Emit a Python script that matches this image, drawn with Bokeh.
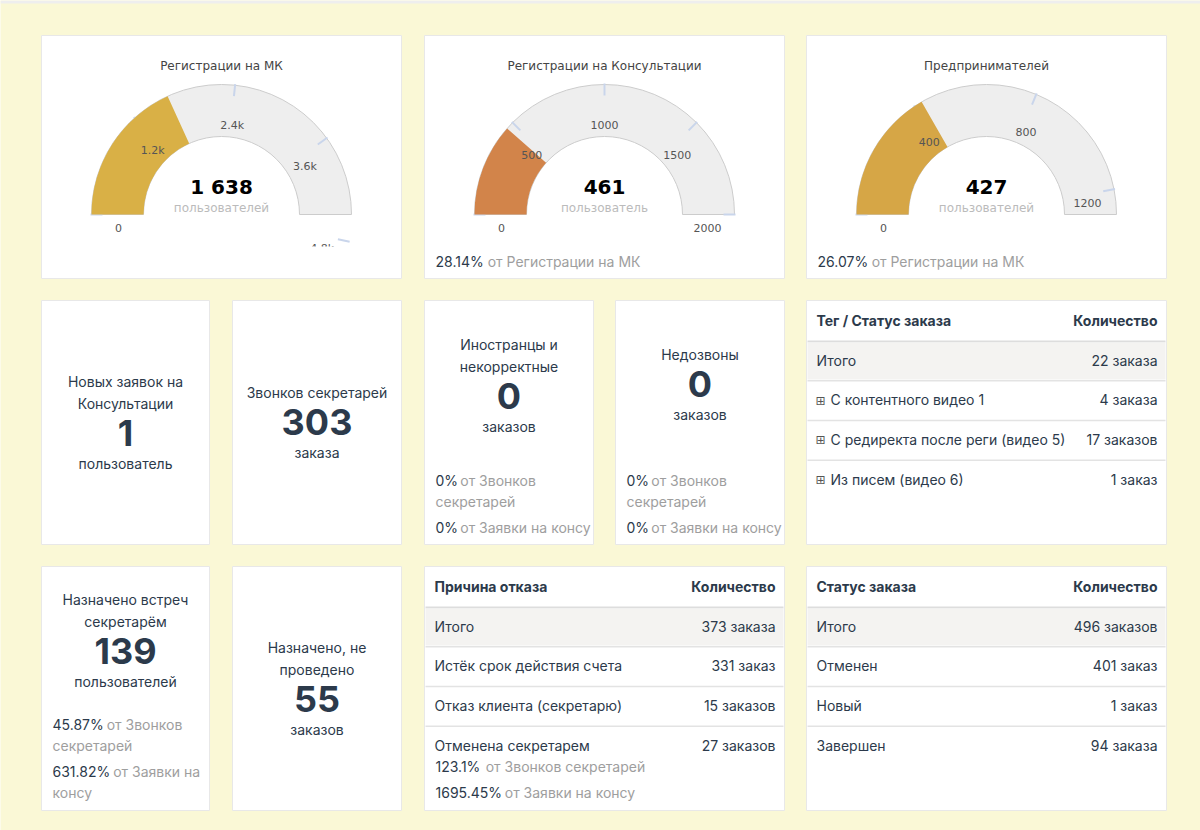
import math
from bokeh.plotting import figure
from bokeh.models import Range1d
from bokeh.core.properties import value
from bokeh.embed import file_html
from bokeh.resources import INLINE

# ---------------- data ----------------
gauge_titles = ["Регистрации на МК", "Регистрации на Консультации", "Предпринимателей"]
gauge_values = [1638, 461, 427]
gauge_max = [4500, 2000, 1280]
gauge_ticks = [[0, 1200, 2400, 3600, 4800], [0, 500, 1000, 1500, 2000], [0, 400, 800, 1200]]
gauge_tick_labels = [["0", "1.2k", "2.4k", "3.6k", "4.8k"],
                     ["0", "500", "1000", "1500", "2000"],
                     ["0", "400", "800", "1200"]]
gauge_units = ["пользователей", "пользователь", "пользователей"]
gauge_colors = ["#D9B046", "#D2844A", "#D6A646"]

kpi_titles = [["Новых заявок на", "Консультации"], ["Звонков секретарей"],
              ["Иностранцы и", "некорректные"], ["Недозвоны"],
              ["Назначено встреч", "секретарём"], ["Назначено, не", "проведено"]]
kpi_values = [1, 303, 0, 0, 139, 55]
kpi_units = ["пользователь", "заказа", "заказов", "заказов", "пользователей", "заказов"]

tag_names = ["Итого", "С контентного видео 1", "С редиректа после реги (видео 5)", "Из писем (видео 6)"]
tag_counts = [22, 4, 17, 1]
reason_names = ["Итого", "Истёк срок действия счета", "Отказ клиента (секретарю)", "Отменена секретарем"]
reason_counts = [373, 331, 15, 27]
status_names = ["Итого", "Отменен", "Новый", "Завершен"]
status_counts = [496, 401, 1, 94]

calls_total = kpi_values[1]          # Звонков секретарей
consult_total = tag_counts[0]        # Заявки на консу

# ---------------- style ----------------
W, H = 1200, 830
BG = "#FAF8D6"
CARD_LINE = "#E8E8E8"
DARK = "#2C3A4B"
GREY = "#9E9E9E"
UI = "Inter"
HC = "DejaVu Sans"
UI_SHIFT = -1.0   # Inter sits slightly low with a "middle" baseline


def Y(v):
    return H - v


def pct(a, b):
    s = f"{100.0 * a / b:.2f}".rstrip("0").rstrip(".")
    return s + "%"


def plural(n, forms=("заказ", "заказа", "заказов")):
    n10, n100 = n % 10, n % 100
    if n10 == 1 and n100 != 11:
        return forms[0]
    if 2 <= n10 <= 4 and not 12 <= n100 <= 14:
        return forms[1]
    return forms[2]


# rough advance widths (em) for the numeric prefixes
CW = {".": 0.27, "%": 0.80, " ": 0.27, "1": 0.47}


def text_w(s, size):
    return sum(CW.get(c, 0.61) for c in s) * size


p = figure(width=W, height=H, x_range=Range1d(0, W), y_range=Range1d(0, H),
           output_backend="svg", toolbar_location=None,
           x_axis_location=None, y_axis_location=None, min_border=0)
p.grid.visible = False
p.outline_line_color = None
p.background_fill_color = BG
p.border_fill_color = BG


def label(x, y, s, size=14, color=DARK, font=UI, style="normal", align="center"):
    if font == UI:
        y += UI_SHIFT
    p.text(x=[x], y=[Y(y)], text=[s], text_font=value(font), text_font_size=f"{size}px",
           text_color=color, text_font_style=style, text_align=align, text_baseline="middle")


def card(x0, x1, y0, y1):
    p.quad(left=[x0], right=[x1], top=[Y(y0)], bottom=[Y(y1)],
           fill_color="white", line_color=CARD_LINE, line_width=1)


def share_line(x, y, num, rest_lines, size=14, lh=21):
    label(x, y, num, size=size, color=DARK, align="left")
    gx = x + text_w(num, size) + 5
    for k, t in enumerate(rest_lines):
        label(gx if k == 0 else x, y + k * lh, t, size=size, color=GREY, align="left")


# top strip
p.quad(left=[0], right=[W], top=[H], bottom=[Y(3)], fill_color="#EEEEEE", line_color=None)

# ---------------- gauges ----------------
cols = [(41, 401), (424, 784), (806, 1166)]
R_IN, R_OUT, CY = 78, 130, 214
for i in range(3):
    x0, x1 = cols[i]
    card(x0, x1, 35, 278)
    cx = (x0 + x1) / 2
    label(cx, 65, gauge_titles[i], size=12, color="#444444", font=HC)
    p.annular_wedge(x=[cx], y=[Y(CY)], inner_radius=R_IN, outer_radius=R_OUT,
                    start_angle=0, end_angle=math.pi, fill_color="#EEEEEE",
                    line_color="#CCCCCC", line_width=1)
    angs = [math.pi * (1 - t / gauge_max[i]) for t in gauge_ticks[i]]
    p.segment(x0=[cx + 119 * math.cos(a) for a in angs], y0=[Y(CY) + 119 * math.sin(a) for a in angs],
              x1=[cx + 131 * math.cos(a) for a in angs], y1=[Y(CY) + 131 * math.sin(a) for a in angs],
              line_color="#C9D5EB", line_width=2)
    va = math.pi * (1 - gauge_values[i] / gauge_max[i])
    p.annular_wedge(x=[cx], y=[Y(CY)], inner_radius=R_IN, outer_radius=R_OUT,
                    start_angle=va, end_angle=math.pi, fill_color=gauge_colors[i], line_color=None)
    for a, t in zip(angs, gauge_tick_labels[i]):
        lx = cx + 103 * math.cos(a)
        ly = CY - 103 * math.sin(a) + 13
        if 0 < a < 0.3:
            ly -= 4
        label(lx, ly, t, size=11, color="#555555", font=HC)
    label(cx, 186, f"{gauge_values[i]:,}".replace(",", " "), size=20, color="#000000", font=HC, style="bold")
    label(cx, 207, gauge_units[i], size=12, color="#BBBBBB", font=HC)
    if i == 0:
        # plot area ends above the card bottom, hiding the overflowing last label
        p.quad(left=[x0 + 1], right=[x1 - 1], top=[Y(246)], bottom=[Y(277)],
               fill_color="white", line_color=None)
    else:
        share_line(x0 + 11, 262, pct(gauge_values[i], gauge_values[0]), ["от " + gauge_titles[0]])

# ---------------- KPI cards ----------------
kpi_boxes = [(41, 209, 300, 544), (232, 401, 300, 544), (424, 593, 300, 544),
             (615, 784, 300, 544), (41, 209, 566, 810), (232, 401, 566, 810)]
kpi_title_y = [382, 393, 345, 355, 600, 648]
for k in range(6):
    x0, x1, y0, y1 = kpi_boxes[k]
    card(x0, x1, y0, y1)
    cx = (x0 + x1) / 2
    ty = kpi_title_y[k]
    for j, t in enumerate(kpi_titles[k]):
        label(cx, ty + 21.5 * j, t, size=14)
    ny = ty + 21.5 * (len(kpi_titles[k]) - 1) + 29.5
    label(cx, ny, str(kpi_values[k]), size=36, style="bold")
    label(cx, ny + 30.5, kpi_units[k], size=14)

for k in (2, 3):
    x0 = kpi_boxes[k][0] + 11
    share_line(x0, 480.5, pct(kpi_values[k], calls_total), ["от Звонков", "секретарей"])
    share_line(x0, 527.5, pct(kpi_values[k], consult_total), ["от Заявки на консу"])
share_line(52, 724.5, pct(kpi_values[4], calls_total), ["от Звонков", "секретарей"])
share_line(52, 771.5, pct(kpi_values[4], consult_total), ["от Заявки на", "консу"])


# ---------------- tables ----------------
def table(x0, x1, y0, y1, head, names, counts, icons=False):
    card(x0, x1, y0, y1)
    label(x0 + 10, y0 + 20.5, head, size=14, style="bold", align="left")
    label(x1 - 9, y0 + 20.5, "Количество", size=14, style="bold", align="right")
    p.quad(left=[x0 + 1], right=[x1 - 1], top=[Y(y0 + 40)], bottom=[Y(y0 + 42)],
           fill_color="#DDDDDD", line_color=None)
    p.quad(left=[x0 + 1], right=[x1 - 1], top=[Y(y0 + 42)], bottom=[Y(y0 + 79)],
           fill_color="#F4F3F1", line_color=None)
    for r, (n, c) in enumerate(zip(names, counts)):
        ry = y0 + 60.5 + 39.7 * r
        tx = x0 + 10
        if icons and r > 0:
            label(x0 + 14, ry, "⊞", size=12, color="#555555", font=HC)
            tx = x0 + 24
        label(tx, ry, n, size=14, align="left")
        label(x1 - 9, ry, f"{c} {plural(c)}", size=14, align="right")
        if r < len(names) - 1:
            sy = y0 + 79.5 + 39.7 * r
            p.quad(left=[x0 + 1], right=[x1 - 1], top=[Y(sy)], bottom=[Y(sy + 1.5)],
                   fill_color="#E3E3E3", line_color=None)


table(806, 1166, 300, 544, "Тег / Статус заказа", tag_names, tag_counts, icons=True)
table(424, 784, 566, 810, "Причина отказа", reason_names, reason_counts)
table(806, 1166, 566, 810, "Статус заказа", status_names, status_counts)
share_line(435, 767, pct(reason_counts[0], calls_total), ["от Звонков секретарей"])
share_line(435, 793, pct(reason_counts[0], consult_total), ["от Заявки на консу"])

open("out.html", "w").write(file_html(p, INLINE))
